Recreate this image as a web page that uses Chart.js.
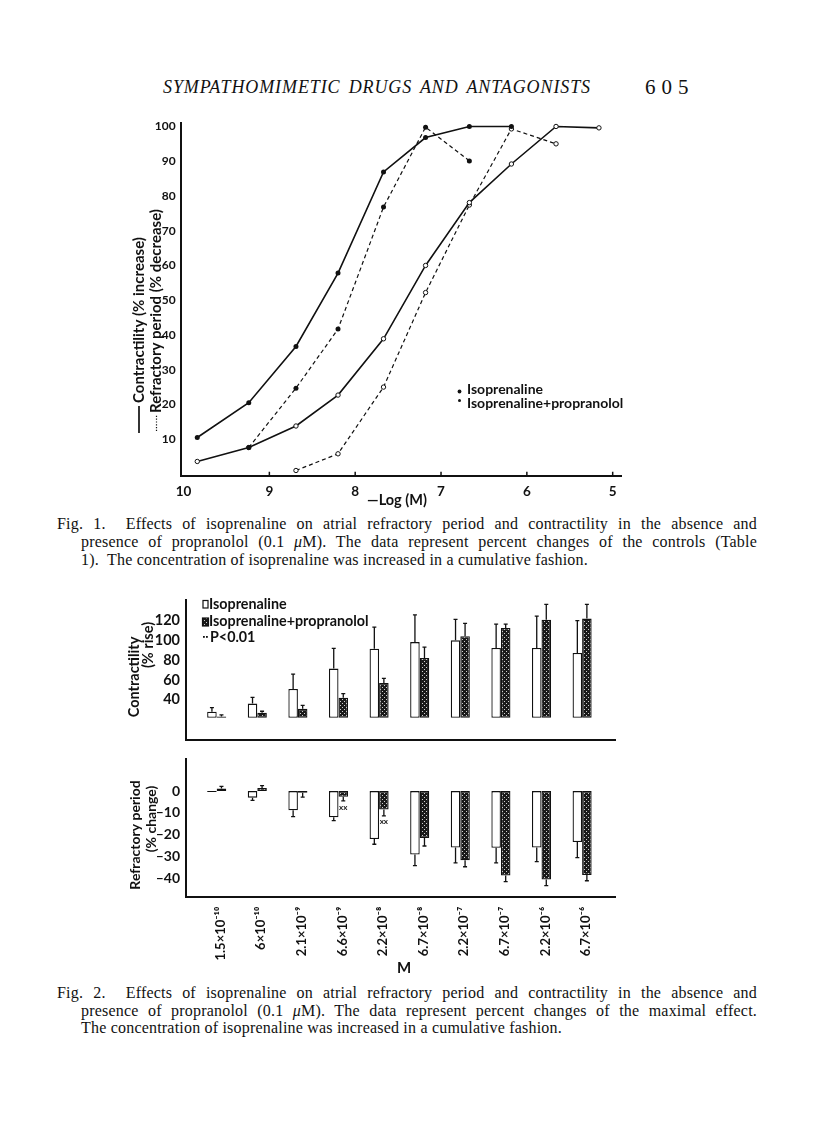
<!DOCTYPE html>
<html>
<head>
<meta charset="utf-8">
<script src="https://cdn.jsdelivr.net/npm/chart.js@4.4.1/dist/chart.umd.min.js"></script>
<style>
  body { margin: 0; background: #fff; }
  #page { position: relative; width: 816px; height: 1124px; overflow: hidden; background: #fff; color: #111; }
  canvas { position: absolute; }
  .hdr { position: absolute; font-family: 'Liberation Serif', 'Times New Roman', serif; white-space: nowrap; }
  .cap { position: absolute; font: 16px/18px 'Liberation Serif', 'Times New Roman', serif; letter-spacing: 0.2px; }
  .just { text-align: justify; text-align-last: justify; }
</style>
</head>
<body>
<div id="page">
  <div class="hdr" style="left:163px; top:77px; width:428px; font-size:18px; font-style:italic; letter-spacing:0.9px; text-align:justify; text-align-last:justify; white-space:normal;">SYMPATHOMIMETIC DRUGS AND ANTAGONISTS</div>
  <div class="hdr" style="left:645px; top:75px; font-size:21px; letter-spacing:6px;">605</div>

  <canvas id="fig1" width="545" height="415" style="left:100px; top:100px;"></canvas>

  <div class="cap just" style="left:57px; top:515px; width:700px;">Fig. 1.&nbsp; Effects of isoprenaline on atrial refractory period and contractility in the absence and</div>
  <div class="cap just" style="left:81px; top:533px; width:676px;">presence of propranolol (0.1 <i>μ</i>M). The data represent percent changes of the controls (Table</div>
  <div class="cap" style="left:81px; top:551px;">1).&nbsp; The concentration of isoprenaline was increased in a cumulative fashion.</div>

  <canvas id="fig2top" width="530" height="170" style="left:100px; top:585px;"></canvas>
  <canvas id="fig2bot" width="530" height="230" style="left:100px; top:745px;"></canvas>

  <div class="cap just" style="left:57px; top:984px; width:700px;">Fig. 2.&nbsp; Effects of isoprenaline on atrial refractory period and contractility in the absence and</div>
  <div class="cap just" style="left:81px; top:1002px; width:676px;">presence of propranolol (0.1 <i>μ</i>M). The data represent percent changes of the maximal effect.</div>
  <div class="cap" style="left:81px; top:1019px;">The concentration of isoprenaline was increased in a cumulative fashion.</div>
</div>

<script>
Chart.defaults.font.family = "Lato, 'Open Sans', sans-serif";
Chart.defaults.font.weight = 'bold';
Chart.defaults.color = '#111';
Chart.defaults.animation = false;

const ink = '#111';
const sans = "Lato, 'Open Sans', sans-serif";

// ---- Fig. 1 data ----
const negLogM   = [9.84, 9.24, 8.69, 8.20, 7.67, 7.18, 6.67, 6.18, 5.66, 5.16];
const contrIso  = [10.5, 20.5, 36.7, 57.8, 86.9, 96.8, 100, 100, null, null];
const refrIso   = [null, 7.6, 24.7, 41.7, 76.8, 99.8, 90.1, null, null, null];
const contrProp = [3.6, 7.6, 13.8, 22.7, 38.9, 60.0, 78.1, 89.2, 100, 99.6];
const refrProp  = [null, null, 1.0, 5.8, 25.0, 52.2, 77.4, 99.3, 95.0, null];
const fig1XTicks = [10, 9, 8, 7, 6, 5];
const fig1YTicks = [10, 20, 30, 40, 50, 60, 70, 80, 90, 100];

// ---- Fig. 2 data ----
const concLabels = ['1.5×10⁻¹⁰', '6×10⁻¹⁰', '2.1×10⁻⁹', '6.6×10⁻⁹', '2.2×10⁻⁸',
                    '6.7×10⁻⁸', '2.2×10⁻⁷', '6.7×10⁻⁷', '2.2×10⁻⁶', '6.7×10⁻⁶'];
const contIso     = [27.8, 36.1, 51.0, 71.5, 91.7, 98.3, 100.1, 92.3, 92.3, 87.3];
const contIsoErr  = [32.0, 42.4, 65.9, 92.0, 113.5, 125.9, 121.2, 116.4, 124.5, 120.0];
const contProp    = [23.0, 26.9, 30.8, 42.1, 57.0, 82.2, 104.2, 112.6, 120.9, 122.1];
const contPropErr = [24.8, 28.4, 34.4, 46.2, 61.7, 93.2, 117.3, 116.4, 136.4, 136.4];
const refIso      = [-0.4, -3.0, -8.8, -12.0, -21.9, -29.0, -25.8, -25.9, -25.8, -23.3];
const refIsoErr   = [-0.4, -4.2, -11.7, -13.5, -24.3, -34.1, -32.8, -32.8, -32.3, -30.4];
const refProp     = [1.2, 1.4, -0.7, -2.6, -8.4, -21.4, -31.6, -38.6, -40.4, -38.4];
const refPropErr  = [2.2, 2.5, -2.8, -4.5, -11.3, -25.1, -34.6, -41.4, -43.2, -41.0];
const contBase = 21.8;
const pMarks = [3, 4];   // P<0.01 on refractory period, propranolol
const contYTicks = [40, 60, 80, 100, 120];
const refYTicks = [0, -10, -20, -30, -40];

function pts(vals) {
  return vals.map((v, i) => ({ x: negLogM[i], y: v })).filter(p => p.y !== null);
}

function lineSet(vals, dashed, open) {
  return {
    data: pts(vals),
    borderColor: ink,
    borderWidth: dashed ? 1.2 : 1.6,
    borderDash: dashed ? [4, 3] : [],
    pointRadius: open ? 2.2 : 2.5,
    pointBackgroundColor: open ? '#fff' : ink,
    pointBorderColor: ink,
    pointBorderWidth: open ? 1 : 0,
    tension: 0
  };
}

function setTicks(list) {
  return (scale) => { scale.ticks = list.map(v => ({ value: v })); };
}

// page-coordinate drawing on a chart canvas
function vtext(ctx, s, x, y, align) {
  ctx.save();
  ctx.translate(x, y);
  ctx.rotate(-Math.PI / 2);
  ctx.textAlign = align || 'center';
  ctx.textBaseline = 'middle';
  ctx.fillText(s, 0, 0);
  ctx.restore();
}

// ---- Fig. 1 ----
const fig1Notes = {
  id: 'fig1Notes',
  afterDraw(chart) {
    const { ctx, chartArea } = chart;
    const xs = chart.scales.x;
    ctx.save();
    ctx.strokeStyle = ink;
    ctx.lineWidth = 1.5;
    ctx.beginPath();
    fig1XTicks.slice(1).forEach(v => {
      const px = xs.getPixelForValue(v);
      ctx.moveTo(px, chartArea.bottom);
      ctx.lineTo(px, chartArea.bottom - 4);
    });
    ctx.stroke();

    ctx.translate(-100, -100);
    ctx.fillStyle = ink;
    ctx.font = 'bold 15px ' + sans;
    // y titles
    ctx.lineWidth = 1.7;
    ctx.beginPath(); ctx.moveTo(139, 433); ctx.lineTo(139, 406); ctx.stroke();
    vtext(ctx, 'Contractility (% increase)', 139, 403, 'left');
    ctx.save();
    ctx.lineWidth = 1.2;
    ctx.setLineDash([1.2, 1.6]);
    ctx.beginPath(); ctx.moveTo(156.5, 431); ctx.lineTo(156.5, 415); ctx.stroke();
    ctx.restore();
    vtext(ctx, 'Refractory period (% decrease)', 156.5, 413, 'left');
    // x title
    ctx.font = 'bold 14.5px ' + sans;
    ctx.textAlign = 'center';
    ctx.textBaseline = 'alphabetic';
    ctx.fillText('—Log (M)', 397, 505);
    // legend
    ctx.font = 'bold 14px ' + sans;
    ctx.textAlign = 'left';
    ctx.beginPath(); ctx.arc(459.5, 391.5, 1.9, 0, Math.PI * 2); ctx.fill();
    ctx.fillText('Isoprenaline', 467, 394);
    ctx.beginPath(); ctx.arc(459.5, 400.5, 1.5, 0, Math.PI * 2); ctx.fill();
    ctx.fillText('Isoprenaline+propranolol', 467, 408);
    ctx.restore();
  }
};

new Chart(document.getElementById('fig1'), {
  type: 'line',
  data: {
    datasets: [
      lineSet(contrIso, false, false),
      lineSet(refrIso, true, false),
      lineSet(contrProp, false, true),
      lineSet(refrProp, true, true)
    ]
  },
  options: {
    responsive: false,
    layout: { padding: { top: 23, right: 23.3, left: 0, bottom: 0 } },
    plugins: { legend: { display: false }, tooltip: { enabled: false } },
    scales: {
      x: {
        type: 'linear', reverse: true, bounds: 'data', min: 4.895, max: 10.033,
        afterBuildTicks: setTicks(fig1XTicks),
        afterFit: s => { s.height = 39.3; },
        grid: { display: false, drawTicks: false },
        border: { color: ink, width: 2 },
        ticks: { padding: 8, font: { size: 13.5, weight: 'bold' }, color: ink }
      },
      y: {
        type: 'linear', bounds: 'data', min: -0.5, max: 101,
        afterBuildTicks: setTicks(fig1YTicks),
        afterFit: s => { s.width = 80.7; },
        grid: { display: false, drawTicks: false },
        border: { color: ink, width: 2 },
        ticks: { padding: 5, font: { size: 12, weight: 'bold' }, color: ink }
      }
    }
  },
  plugins: [fig1Notes]
});

// ---- Fig. 2 ----
const pc = document.createElement('canvas');
pc.width = 4; pc.height = 4;
const pg = pc.getContext('2d');
pg.fillStyle = '#1a1a1a'; pg.fillRect(0, 0, 4, 4);
pg.fillStyle = '#cfcfcf'; pg.fillRect(0, 0, 1, 1); pg.fillRect(2, 2, 1, 1);
const stipple = pg.createPattern(pc, 'repeat');

function barSet(vals, errs, dark, base) {
  const ds = {
    data: vals.map((v, i) => ({ x: i, y: v })),
    errTo: errs,
    backgroundColor: dark ? stipple : '#fff',
    borderColor: ink,
    borderWidth: 1.3,
    borderSkipped: false,
    categoryPercentage: 0.47,
    barPercentage: 1.0
  };
  if (base !== undefined) ds.base = base;
  return ds;
}

const errorBars = {
  id: 'errorBars',
  afterDatasetsDraw(chart) {
    const { ctx } = chart;
    const ys = chart.scales.y;
    ctx.save();
    ctx.strokeStyle = ink;
    ctx.lineWidth = 1.3;
    chart.data.datasets.forEach((ds, di) => {
      if (!ds.errTo) return;
      chart.getDatasetMeta(di).data.forEach((bar, i) => {
        const yEnd = ys.getPixelForValue(ds.errTo[i]);
        if (Math.abs(yEnd - bar.y) < 0.5) return;
        ctx.beginPath();
        ctx.moveTo(bar.x, bar.y); ctx.lineTo(bar.x, yEnd);
        ctx.moveTo(bar.x - 2, yEnd); ctx.lineTo(bar.x + 2, yEnd);
        ctx.stroke();
      });
      if (ds.marks) {
        ctx.fillStyle = ink;
        ctx.font = 'bold 8px ' + sans;
        ctx.textAlign = 'center';
        ctx.textBaseline = 'middle';
        ds.marks.forEach(i => {
          const bar = chart.getDatasetMeta(di).data[i];
          ctx.fillText('xx', bar.x, ys.getPixelForValue(ds.errTo[i]) + 6);
        });
      }
    });
    ctx.restore();
  }
};

const xFig2 = (showTicks, h) => ({
  type: 'linear', bounds: 'data', min: -0.756, max: 9.81, offset: false,
  afterBuildTicks: setTicks(concLabels.map((_, i) => i)),
  afterFit: s => { s.height = h; },
  grid: { display: false, drawTicks: false },
  border: { color: ink, width: 2 },
  ticks: {
    display: showTicks, autoSkip: false, minRotation: 90, maxRotation: 90, padding: 10,
    labelOffset: 4,
    font: { size: 13, weight: 'bold' }, color: ink,
    callback: v => concLabels[Math.round(v)]
  }
});

const topNotes = {
  id: 'topNotes',
  afterDraw(chart) {
    const { ctx } = chart;
    ctx.save();
    ctx.translate(-100, -585);
    ctx.fillStyle = ink;
    ctx.strokeStyle = ink;
    ctx.font = 'bold 14.5px ' + sans;
    vtext(ctx, 'Contractility', 134, 677);
    vtext(ctx, '(% rise)', 148.5, 645);
    // legend
    ctx.font = 'bold 14.3px ' + sans;
    ctx.textAlign = 'left';
    ctx.textBaseline = 'alphabetic';
    ctx.lineWidth = 1.2;
    ctx.strokeRect(203, 600.5, 5, 7.5);
    ctx.fillText('Isoprenaline', 209, 608.5);
    ctx.fillStyle = stipple;
    ctx.fillRect(202.5, 618, 6, 8);
    ctx.strokeRect(202.5, 618, 6, 8);
    ctx.fillStyle = ink;
    ctx.fillText('Isoprenaline+propranolol', 209, 626);
    ctx.fillRect(203, 636, 1.8, 1.8);
    ctx.fillRect(206, 636, 1.8, 1.8);
    ctx.fillText('P<0.01', 210, 641.5);
    ctx.restore();
  }
};

new Chart(document.getElementById('fig2top'), {
  type: 'bar',
  data: {
    datasets: [
      barSet(contIso, contIsoErr, false, contBase),
      barSet(contProp, contPropErr, true, contBase)
    ]
  },
  options: {
    responsive: false,
    layout: { padding: { top: 8, right: 15, left: 0, bottom: 0 } },
    plugins: { legend: { display: false }, tooltip: { enabled: false } },
    scales: {
      x: xFig2(false, 2.7),
      y: {
        type: 'linear', bounds: 'data', min: -1, max: 141.2,
        afterBuildTicks: setTicks(contYTicks),
        afterFit: s => { s.width = 86; },
        grid: { display: false, drawTicks: false },
        border: { color: ink, width: 2 },
        ticks: { padding: 6, font: { size: 14.5, weight: 'bold' }, color: ink }
      }
    }
  },
  plugins: [errorBars, topNotes]
});

const botNotes = {
  id: 'botNotes',
  afterDraw(chart) {
    const { ctx } = chart;
    ctx.save();
    ctx.translate(-100, -745);
    ctx.fillStyle = ink;
    ctx.font = 'bold 14px ' + sans;
    vtext(ctx, 'Refractory period', 135, 835);
    vtext(ctx, '(% change)', 151.5, 819);
    ctx.font = 'bold 15px ' + sans;
    ctx.textAlign = 'center';
    ctx.textBaseline = 'middle';
    ctx.fillText('M', 404, 968);
    ctx.restore();
  }
};

const propRef = barSet(refProp, refPropErr, true);
propRef.marks = pMarks;

new Chart(document.getElementById('fig2bot'), {
  type: 'bar',
  data: {
    datasets: [
      barSet(refIso, refIsoErr, false),
      propRef
    ]
  },
  options: {
    responsive: false,
    layout: { padding: { top: 7.3, right: 15, left: 0, bottom: 0 } },
    plugins: { legend: { display: false }, tooltip: { enabled: false } },
    scales: {
      x: xFig2(true, 78.3),
      y: {
        type: 'linear', bounds: 'data', min: -48.3, max: 14.5,
        afterBuildTicks: setTicks(refYTicks),
        afterFit: s => { s.width = 86; },
        grid: { display: false, drawTicks: false },
        border: { color: ink, width: 2 },
        ticks: {
          padding: 6, font: { size: 14, weight: 'bold' }, color: ink,
          callback: v => (v < 0 ? '–' + Math.abs(v) : String(v))
        }
      }
    }
  },
  plugins: [errorBars, botNotes]
});
</script>
</body>
</html>
